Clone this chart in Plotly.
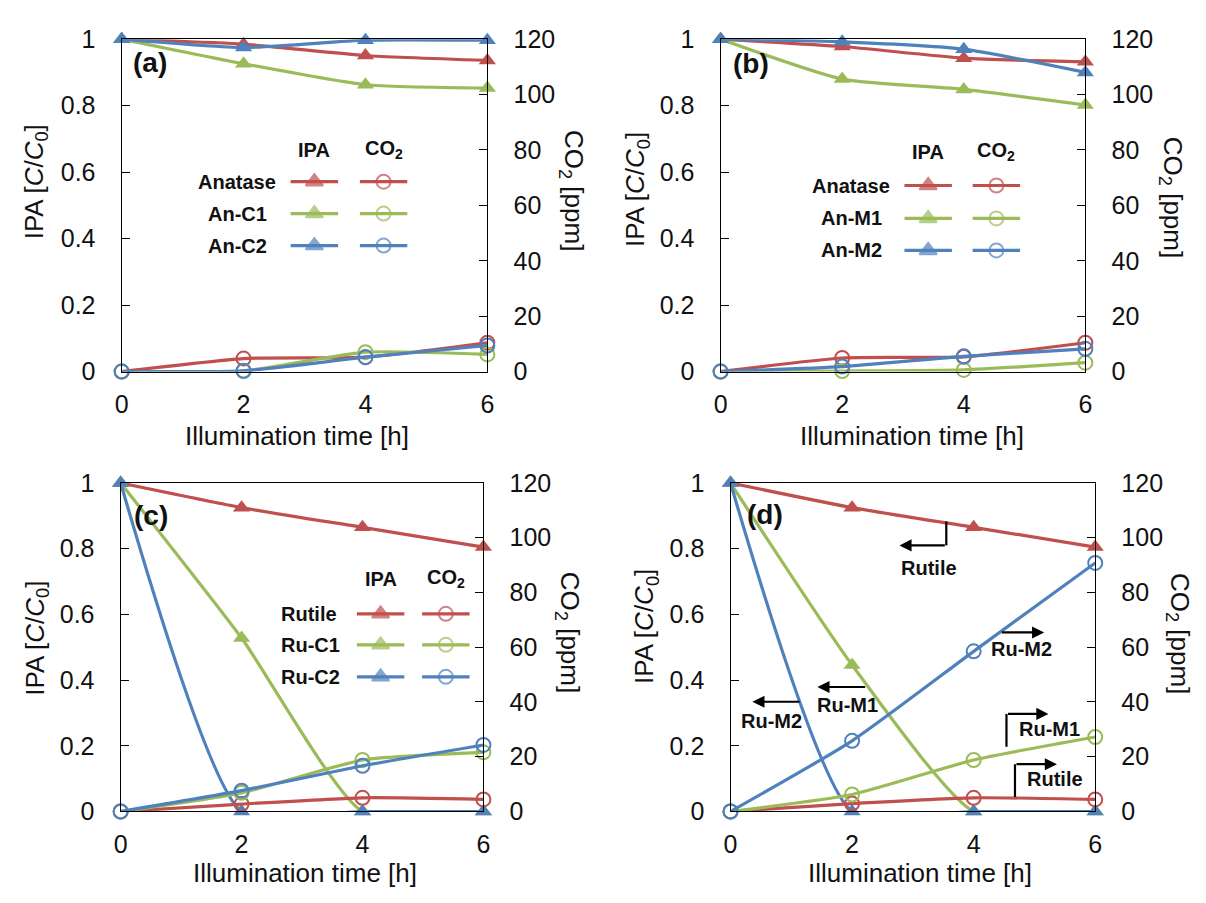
import plotly.graph_objects as go

W, H = 1206, 903
RED, GREEN, BLUE = "#C0504D", "#9BBB59", "#4F81BD"
COLORS = [RED, GREEN, BLUE]
FONT = "Liberation Sans, Arial, Helvetica, sans-serif"
INK = "#111111"

# ---------------- data ----------------
time_h = [0, 2, 4, 6]
ipa_ticks = [0, 0.2, 0.4, 0.6, 0.8, 1]
ipa_tick_text = ["0", "0.2", "0.4", "0.6", "0.8", "1"]
co2_ticks = [0, 20, 40, 60, 80, 100, 120]

# (a)
a_names = ["Anatase", "An-C1", "An-C2"]
a_ipa_anatase = [1.0, 0.985, 0.951, 0.936]
a_ipa_anc1 = [1.0, 0.926, 0.863, 0.853]
a_ipa_anc2 = [1.0, 0.975, 0.997, 0.997]
a_co2_anatase = [0, 4.7, 5.2, 10.4]
a_co2_anc1 = [0, 0.2, 7.0, 6.2]
a_co2_anc2 = [0, 0.3, 5.2, 9.4]

# (b)
b_names = ["Anatase", "An-M1", "An-M2"]
b_ipa_anatase = [1.0, 0.978, 0.943, 0.932]
b_ipa_anm1 = [1.0, 0.880, 0.849, 0.802]
b_ipa_anm2 = [1.0, 0.992, 0.970, 0.900]
b_co2_anatase = [0, 4.9, 5.3, 10.4]
b_co2_anm1 = [0, 0.2, 0.6, 3.2]
b_co2_anm2 = [0, 1.8, 5.5, 8.2]

# (c)
c_names = ["Rutile", "Ru-C1", "Ru-C2"]
c_ipa_rutile = [1.0, 0.925, 0.865, 0.805]
c_ipa_ruc1 = [1.0, 0.528, 0.0, 0.0]
c_ipa_ruc2 = [1.0, 0.0, 0.0, 0.0]
c_co2_rutile = [0, 2.7, 5.0, 4.4]
c_co2_ruc1 = [0, 6.8, 18.8, 21.6]
c_co2_ruc2 = [0, 7.6, 16.7, 24.3]

# (d)
d_names = ["Rutile", "Ru-M1", "Ru-M2"]
d_ipa_rutile = [1.0, 0.925, 0.865, 0.805]
d_ipa_rum1 = [1.0, 0.446, 0.0, 0.0]
d_ipa_rum2 = [1.0, 0.0, 0.0, 0.0]
d_co2_rutile = [0, 2.9, 5.0, 4.4]
d_co2_rum1 = [0, 6.2, 18.8, 27.2]
d_co2_rum2 = [0, 25.8, 58.5, 90.8]

# ---------------- layout helpers ----------------
def px(x):
    return x / W


def py(y):
    return 1 - y / H


panels = [
    dict(box=(116, 486, 26, 369), label="(a)", lab_xy=(145, 50),
         ipa=[a_ipa_anatase, a_ipa_anc1, a_ipa_anc2],
         co2=[a_co2_anatase, a_co2_anc1, a_co2_anc2], names=a_names,
         ytitle=(29, 173), y2title=(572, 182), xtitle=(293, 436),
         leg=dict(head_y=140, ipa_x=311, co2_x=381, rows=[173, 206, 239],
                  name_x=233, name_anchor="center")),
    dict(box=(722, 1091, 26, 369), label="(b)", lab_xy=(753, 51),
         ipa=[b_ipa_anatase, b_ipa_anm1, b_ipa_anm2],
         co2=[b_co2_anatase, b_co2_anm1, b_co2_anm2], names=b_names,
         ytitle=(637, 181), y2title=(1179, 189), xtitle=(916, 436),
         leg=dict(head_y=142, ipa_x=932, co2_x=1001, rows=[177, 211, 244],
                  name_x=854, name_anchor="center")),
    dict(box=(115, 482, 484, 823), label="(c)", lab_xy=(146, 518),
         ipa=[c_ipa_rutile, c_ipa_ruc1, c_ipa_ruc2],
         co2=[c_co2_rutile, c_co2_ruc1, c_co2_ruc2], names=c_names,
         ytitle=(29, 644), y2title=(568, 638), xtitle=(301, 886),
         leg=dict(head_y=583, ipa_x=378, co2_x=444, rows=[619, 651, 684],
                  name_x=275, name_anchor="left")),
    dict(box=(732, 1101, 484, 823), label="(d)", lab_xy=(767, 517),
         ipa=[d_ipa_rutile, d_ipa_rum1, d_ipa_rum2],
         co2=[d_co2_rutile, d_co2_rum1, d_co2_rum2], names=d_names,
         ytitle=(646, 632), y2title=(1186, 639), xtitle=(924, 886),
         leg=None),
]

TICKFONT = dict(family=FONT, size=25, color=INK)
TITLEFONT = dict(family=FONT, size=26, color=INK)
BOLDFONT = dict(family=FONT, size=20, color=INK)
SMOOTH = 0.55

fig = go.Figure()
layout = dict(width=W, height=H, margin=dict(l=0, r=0, t=0, b=0),
              paper_bgcolor="white", plot_bgcolor="rgba(0,0,0,0)",
              showlegend=False)
annotations = []
shapes = []


def note(x, y, text, font, xanchor="center", angle=0):
    annotations.append(dict(x=px(x), y=py(y), xref="paper", yref="paper",
                            xanchor=xanchor, yanchor="middle", showarrow=False,
                            text=text, textangle=angle, font=font))


for i, p in enumerate(panels, start=1):
    l, r, t, b = p["box"]
    xs = "" if i == 1 else str(i)
    xname, yname, y2name = f"xaxis{xs}", f"yaxis{xs}", f"yaxis{i + 4}"
    xref, yref, y2ref = f"x{xs}", f"y{xs}", f"y{i + 4}"
    layout[xname] = dict(domain=[px(l), px(r)], anchor=yref, range=[0, 6],
                         tickvals=time_h, ticks="", showline=True,
                         linecolor="black", linewidth=1.3, mirror=True,
                         showgrid=False, zeroline=False, tickfont=TICKFONT,
                         ticklabelstandoff=10, fixedrange=True)
    layout[yname] = dict(domain=[py(b), py(t)], anchor=xref, range=[0, 1],
                         tickvals=ipa_ticks, ticktext=ipa_tick_text,
                         ticks="inside", ticklen=8, tickcolor="black",
                         showline=True, linecolor="black", linewidth=1.3,
                         showgrid=False, zeroline=False, tickfont=TICKFONT,
                         ticklabelstandoff=20, fixedrange=True)
    layout[y2name] = dict(overlaying=yref, side="right", anchor=xref,
                          range=[0, 120], tickvals=co2_ticks, ticks="inside",
                          ticklen=8, tickcolor="black", showline=True,
                          linecolor="black", linewidth=1.3, showgrid=False,
                          zeroline=False, tickfont=TICKFONT,
                          ticklabelstandoff=20, fixedrange=True)

    for k in range(3):
        fig.add_trace(go.Scatter(
            x=time_h, y=p["ipa"][k], xaxis=xref, yaxis=yref,
            mode="lines+markers", cliponaxis=False,
            line=dict(color=COLORS[k], width=3.2, shape="spline",
                      smoothing=SMOOTH),
            marker=dict(symbol="triangle-up", size=15, color=COLORS[k])))
    for k in range(3):
        fig.add_trace(go.Scatter(
            x=time_h, y=p["co2"][k], xaxis=xref, yaxis=y2ref,
            mode="lines+markers", cliponaxis=False,
            line=dict(color=COLORS[k], width=3.2, shape="spline",
                      smoothing=SMOOTH),
            marker=dict(symbol="circle-open", size=14, color=COLORS[k],
                        line=dict(width=2, color=COLORS[k]))))

    note(*p["ytitle"], "IPA [<i>C</i>/<i>C</i><sub>0</sub>]", TITLEFONT,
         angle=-90)
    note(*p["y2title"], "CO<sub>2</sub> [ppm]", TITLEFONT, angle=90)
    note(*p["xtitle"], "Illumination time [h]", TITLEFONT)
    note(*p["lab_xy"], f"<b>{p['label']}</b>",
         dict(family=FONT, size=28, color=INK))

    lg = p["leg"]
    if lg:
        note(lg["ipa_x"], lg["head_y"], "<b>IPA</b>", BOLDFONT)
        note(lg["co2_x"], lg["head_y"], "<b>CO<sub>2</sub></b>", BOLDFONT)
        for k, ry in enumerate(lg["rows"]):
            note(lg["name_x"], ry, f"<b>{p['names'][k]}</b>", BOLDFONT,
                 xanchor=lg["name_anchor"])
            for cx, sym, sz in ((lg["ipa_x"], "triangle-up", 15),
                                (lg["co2_x"], "circle-open", 14)):
                fig.add_trace(go.Scatter(
                    x=[cx - 24, cx, cx + 24], y=[ry, ry, ry],
                    xaxis="x5", yaxis="y9", mode="lines+markers",
                    cliponaxis=False, hoverinfo="skip",
                    line=dict(color=COLORS[k], width=3.2),
                    marker=dict(symbol=sym, size=[0, sz, 0], color=COLORS[k],
                                line=dict(width=2, color=COLORS[k]))))

# overlay axes for legend keys (pixel space)
layout["xaxis5"] = dict(domain=[0, 1], range=[0, W], visible=False,
                        anchor="y9", fixedrange=True)
layout["yaxis9"] = dict(domain=[0, 1], range=[H, 0], visible=False,
                        anchor="x5", fixedrange=True)

# ---------------- callouts in panel (d) ----------------
# (x_tail, x_head, y, vertical_from_y or None, label, label_x, label_y)
d_callouts = [
    (3.55, 2.78, 0.810, 0.883, "Rutile", 3.26, 0.742),
    (2.24, 1.43, 0.379, None, "Ru-M1", 1.93, 0.324),
    (1.16, 0.36, 0.334, None, "Ru-M2", 0.67, 0.275),
    (4.44, 5.16, 0.545, None, "Ru-M2", 4.79, 0.494),
    (4.54, 5.23, 0.297, 0.197, "Ru-M1", 5.25, 0.251),
    (4.68, 5.37, 0.144, 0.044, "Rutile", 5.34, 0.100),
]
for xt, xh, yy, yv, txt, lx, ly in d_callouts:
    annotations.append(dict(x=xh, y=yy, ax=xt, ay=yy, xref="x4", yref="y4",
                            axref="x4", ayref="y4", text="", showarrow=True,
                            arrowhead=2, arrowsize=1.1, arrowwidth=2.2,
                            arrowcolor="black"))
    if yv is not None:
        shapes.append(dict(type="line", xref="x4", yref="y4", x0=xt, x1=xt,
                           y0=yv, y1=yy, line=dict(color="black", width=2.2)))
    annotations.append(dict(x=lx, y=ly, xref="x4", yref="y4",
                            xanchor="center", yanchor="middle",
                            showarrow=False, text=f"<b>{txt}</b>",
                            font=BOLDFONT))

layout["annotations"] = annotations
layout["shapes"] = shapes
fig.update_layout(**layout)
fig.write_html("out.html")
